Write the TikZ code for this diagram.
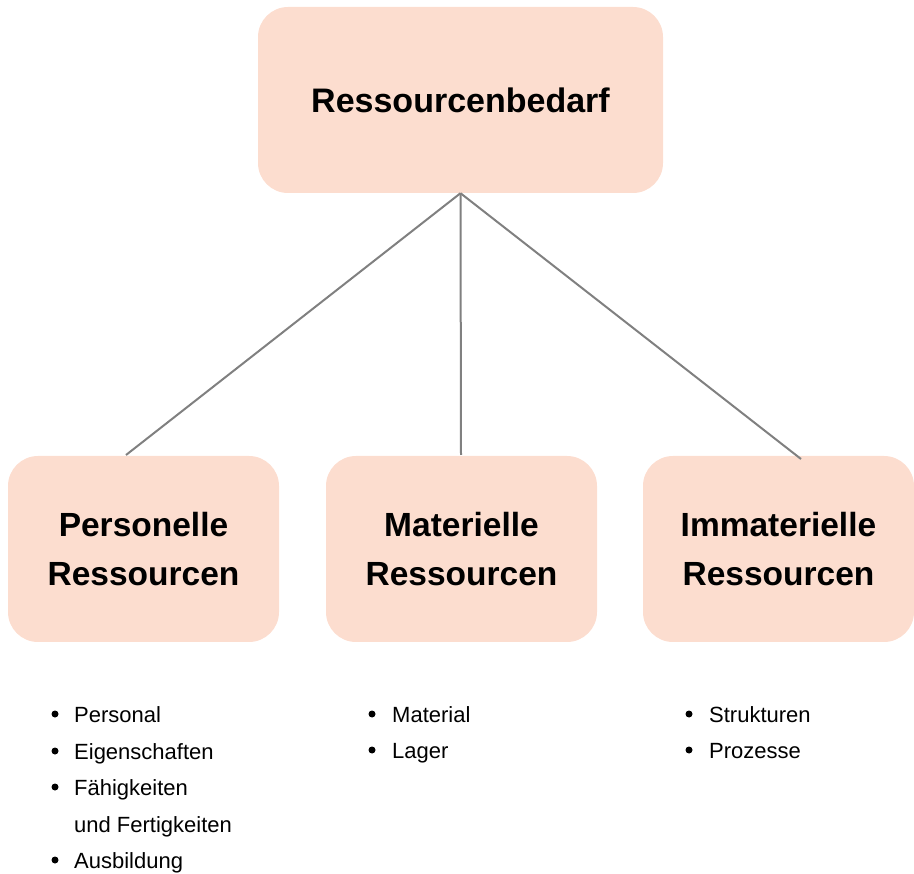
\documentclass[tikz,border=0pt]{standalone}
\usepackage{fontspec}
\setmainfont{Liberation Sans}
\definecolor{boxfill}{HTML}{FCDDCF}
\definecolor{linegray}{HTML}{808080}
\begin{document}
\begin{tikzpicture}[x=1pt,y=-1pt,
  topbox/.style={fill=boxfill,draw=none,rounded corners=30pt,minimum width=405pt,minimum height=186pt,inner sep=0pt,
    font=\fontsize{34}{40}\selectfont\bfseries},
  subbox/.style={fill=boxfill,draw=none,rounded corners=30pt,minimum width=271pt,minimum height=186pt,inner sep=0pt,align=center,
    font=\fontsize{33.5}{49.5}\selectfont\bfseries},
  conn/.style={draw=linegray,line width=2pt},
  item/.style={anchor=base west,inner sep=0pt,font=\fontsize{22}{26}\selectfont},
  dot/.style={circle,fill=black,draw=none,minimum size=7pt,inner sep=0pt}
]
\useasboundingbox (0,0) rectangle (914,874);
\node[topbox] (top) at (460.5,100) {Ressourcenbedarf};
\node[subbox] (pers) at (143.5,549) {Personelle\\Ressourcen};
\node[subbox] (mat) at (461.5,549) {Materielle\\Ressourcen};
\node[subbox] (imm) at (778.5,549) {Immaterielle\\Ressourcen};
\coordinate (pe) at (126,455);
\coordinate (me) at (461,455);
\coordinate (ie) at (801,459);
\draw[conn] (top.south) -- (pe);
\draw[conn] (top.south) -- (me);
\draw[conn] (top.south) -- (ie);
% lists
\node[item] (p1) at (74,722) {Personal};
\node[item] (p2) at (74,759) {Eigenschaften};
\node[item] (p3) at (74,795) {Fähigkeiten};
\node[item] (p4) at (74,832) {und Fertigkeiten};
\node[item] (p5) at (74,868) {Ausbildung};
\node[dot] (b1) at (55,714) {};
\node[dot] (b2) at (55,751) {};
\node[dot] (b3) at (55,787) {};
\node[dot] (b5) at (55,860) {};
\node[item] (m1) at (392,722) {Material};
\node[item] (m2) at (392,758) {Lager};
\node[dot] (c1) at (372,714) {};
\node[dot] (c2) at (372,750) {};
\node[item] (i1) at (709,722) {Strukturen};
\node[item] (i2) at (709,758) {Prozesse};
\node[dot] (d1) at (689,714) {};
\node[dot] (d2) at (689,750) {};
\end{tikzpicture}
\end{document}
